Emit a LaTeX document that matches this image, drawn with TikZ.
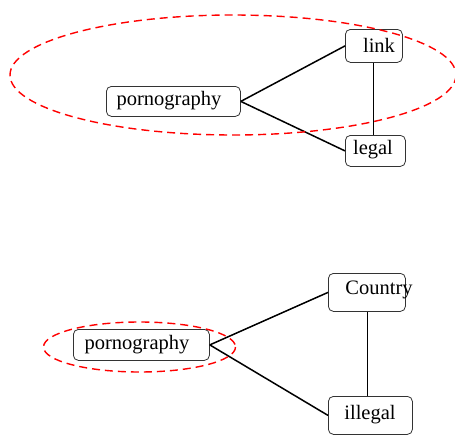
\documentclass[tikz,border=0pt]{standalone}
\usepackage{fontspec}
\setmainfont{Liberation Serif}
\begin{document}
\begin{tikzpicture}[x=1pt,y=-1pt,
  box/.style={draw=black!80,line width=0.8pt,rounded corners=5pt,inner sep=0pt,anchor=north west},
  txt/.style={inner sep=0pt,font=\fontsize{20.5}{24}\selectfont},
  edge/.style={line width=1.5pt},
  tie/.style={line width=0.9pt},
  halo/.style={draw=red,line width=1.4pt,dash pattern=on 8pt off 5pt}]
\useasboundingbox (0,0) rectangle (455,439);
% top group
\node[box,minimum width=134pt,minimum height=30pt] (p1) at (106,86) {};
\node[txt] (p1t) at (169,101) {pornography};
\node[box,minimum width=57pt,minimum height=33pt] (l1) at (345,29) {};
\node[txt] (l1t) at (379,45) {link};
\node[box,minimum width=60pt,minimum height=31pt] (g1) at (345,135) {};
\node[txt] (g1t) at (373,150) {legal};
\draw[edge] (p1.east) -- (l1.west);
\draw[edge] (p1.east) -- (g1.west);
\coordinate (v1) at (373,0);
\draw[tie] (l1.south -| v1) -- (g1.north -| v1);
\draw[halo] (233,75) ellipse [x radius=223, y radius=60];
% bottom group
\node[box,minimum width=136pt,minimum height=31pt] (p2) at (73,329) {};
\node[txt] (p2t) at (137,345) {pornography};
\node[box,minimum width=77pt,minimum height=38pt] (c2) at (328,273) {};
\node[txt] (c2t) at (379,290) {Country};
\node[box,minimum width=84pt,minimum height=38pt] (i2) at (328,396) {};
\node[txt] (i2t) at (370,415) {illegal};
\draw[edge] (p2.east) -- (c2.west);
\draw[edge] (p2.east) -- (i2.west);
\coordinate (v2) at (367,0);
\draw[tie] (c2.south -| v2) -- (i2.north -| v2);
\draw[halo] (139.5,347) ellipse [x radius=96, y radius=25];
\end{tikzpicture}
\end{document}
